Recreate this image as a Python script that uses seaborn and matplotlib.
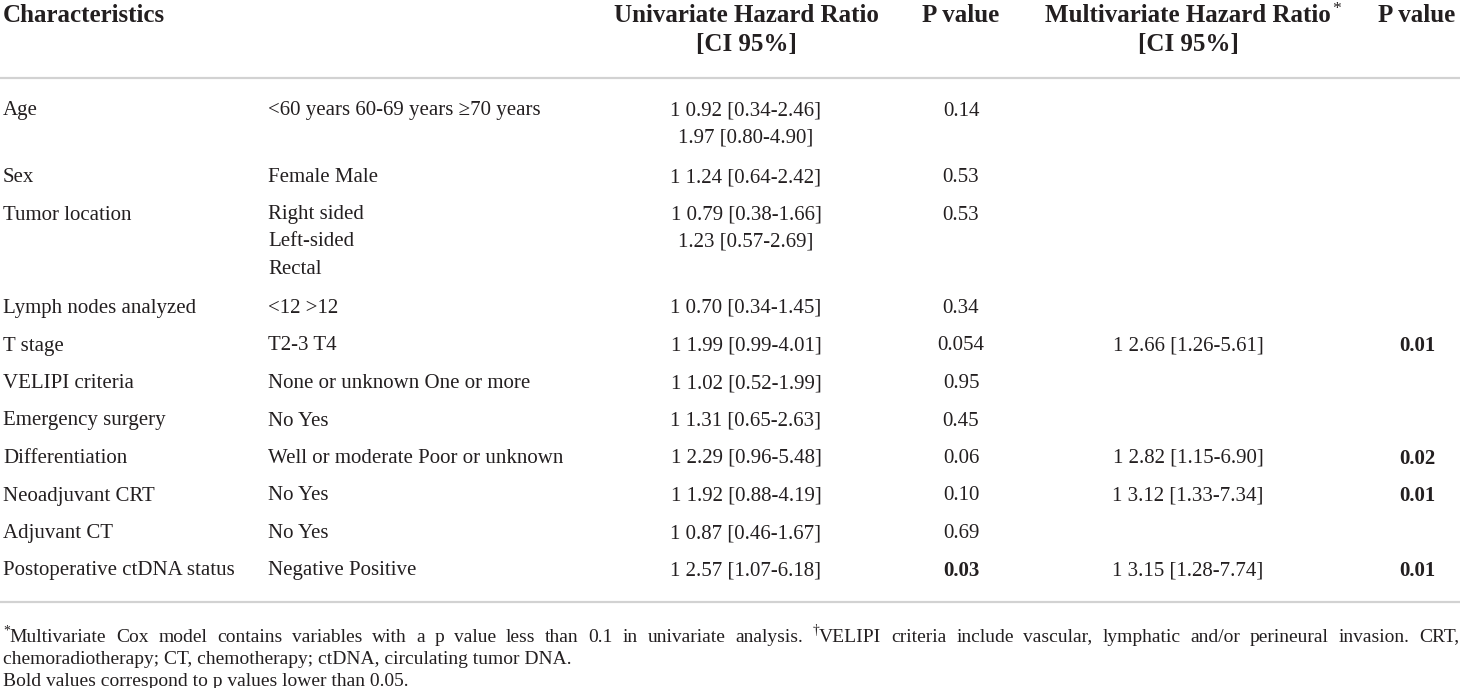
import matplotlib
matplotlib.use("Agg")
import matplotlib.pyplot as plt
import seaborn as sns

# table content
header_top = ["Characteristics", "Univariate Hazard Ratio", "P value",
              "Multivariate Hazard Ratio*", "P value"]
header_sub = ["", "[CI 95%]", "", "[CI 95%]", ""]

characteristics = ["Age", "Sex", "Tumor location", "Lymph nodes analyzed",
                   "T stage", "VELIPI criteria", "Emergency surgery",
                   "Differentiation", "Neoadjuvant CRT", "Adjuvant CT",
                   "Postoperative ctDNA status"]
categories = [["<60 years 60-69 years \u226570 years"],
              ["Female Male"],
              ["Right sided", "Left-sided", "Rectal"],
              ["<12 >12"],
              ["T2-3 T4"],
              ["None or unknown One or more"],
              ["No Yes"],
              ["Well or moderate Poor or unknown"],
              ["No Yes"],
              ["No Yes"],
              ["Negative Positive"]]
uni_hr = [["1 0.92 [0.34-2.46]", "1.97 [0.80-4.90]"],
          ["1 1.24 [0.64-2.42]"],
          ["1 0.79 [0.38-1.66]", "1.23 [0.57-2.69]"],
          ["1 0.70 [0.34-1.45]"],
          ["1 1.99 [0.99-4.01]"],
          ["1 1.02 [0.52-1.99]"],
          ["1 1.31 [0.65-2.63]"],
          ["1 2.29 [0.96-5.48]"],
          ["1 1.92 [0.88-4.19]"],
          ["1 0.87 [0.46-1.67]"],
          ["1 2.57 [1.07-6.18]"]]
uni_p = ["0.14", "0.53", "0.53", "0.34", "0.054", "0.95", "0.45",
         "0.06", "0.10", "0.69", "0.03"]
multi_hr = ["", "", "", "", "1 2.66 [1.26-5.61]", "", "",
            "1 2.82 [1.15-6.90]", "1 3.12 [1.33-7.34]", "", "1 3.15 [1.28-7.74]"]
multi_p = ["", "", "", "", "0.01", "", "", "0.02", "0.01", "", "0.01"]

footnotes = [
    "*Multivariate Cox model contains variables with a p value less than 0.1 in "
    "univariate analysis. \u2020VELIPI criteria include vascular, lymphatic and/or "
    "perineural invasion. CRT,",
    "chemoradiotherapy; CT, chemotherapy; ctDNA, circulating tumor DNA.",
    "Bold values correspond to p values lower than 0.05.",
]

sns.set_theme(style="white")
plt.rcParams["font.family"] = ["Liberation Serif", "DejaVu Serif"]

INK = "#231f20"
RULE = "#d2d2d2"
W, H = 1460, 688

fig = plt.figure(figsize=(W / 100, H / 100), dpi=100)
ax = fig.add_axes([0, 0, 1, 1])
ax.set_xlim(0, W)
ax.set_ylim(H, 0)
ax.axis("off")
renderer = fig.canvas.get_renderer()

col_x = [3, 268, 746, 961, 1188, 1417]
body_size = 15
head_size = 18

# header
ax.text(col_x[0], 15, header_top[0], ha="left", va="center",
        fontsize=head_size, fontweight="bold", color=INK)
for j in range(1, 5):
    label = header_top[j]
    if label.endswith("*"):
        t = ax.text(col_x[j + 1], 15, label[:-1], ha="center", va="center",
                    fontsize=head_size, fontweight="bold", color=INK)
        bb = t.get_window_extent(renderer)
        ax.text(bb.x1 + 1, 9, "*", ha="left", va="center",
                fontsize=head_size * 0.7, color=INK)
    else:
        ax.text(col_x[j + 1], 15, label, ha="center", va="center",
                fontsize=head_size, fontweight="bold", color=INK)
    if header_sub[j]:
        ax.text(col_x[j + 1], 44, header_sub[j], ha="center", va="center",
                fontsize=head_size, fontweight="bold", color=INK)

ax.axhline(78, color=RULE, lw=1.6)
ax.axhline(602, color=RULE, lw=1.6)

# body rows
y = 111
pitch = 37.5
sub = 27
for i, name in enumerate(characteristics):
    ax.text(col_x[0], y, name, ha="left", va="center", fontsize=body_size, color=INK)
    for k, c in enumerate(categories[i]):
        ax.text(col_x[1], y + k * sub, c, ha="left", va="center",
                fontsize=body_size, color=INK)
    for k, c in enumerate(uni_hr[i]):
        ax.text(col_x[2], y + k * sub, c, ha="center", va="center",
                fontsize=body_size, color=INK)
    ax.text(col_x[3], y, uni_p[i], ha="center", va="center", fontsize=body_size,
            color=INK, fontweight="bold" if float(uni_p[i]) < 0.05 else "normal")
    if multi_hr[i]:
        ax.text(col_x[4], y, multi_hr[i], ha="center", va="center",
                fontsize=body_size, color=INK)
        ax.text(col_x[5], y, multi_p[i], ha="center", va="center",
                fontsize=body_size, color=INK,
                fontweight="bold" if float(multi_p[i]) < 0.05 else "normal")
    n = max(len(categories[i]), len(uni_hr[i]))
    y += pitch + sub * (n - 1) + (2 if n > 1 else 0)

# footnotes, first line justified
foot_size = 14


def put_word(x, yy, word, measure_only=False):
    segs = []
    if word[0] in "*\u2020":
        segs.append((word[0], True))
        word = word[1:]
    segs.append((word, False))
    width = 0
    for s, raised in segs:
        t = ax.text(x + width, yy - (6 if raised else 0), s, ha="left", va="center",
                    fontsize=foot_size * (0.7 if raised else 1), color=INK)
        width += t.get_window_extent(renderer).width
        if measure_only:
            t.remove()
    return width


words = footnotes[0].split(" ")
widths = [put_word(0, 0, w, measure_only=True) for w in words]
gap = (W - 4 - sum(widths)) / (len(words) - 1)
x = 3
for w, wd in zip(words, widths):
    put_word(x, 637, w)
    x += wd + gap

ax.text(3, 660, footnotes[1], ha="left", va="center", fontsize=foot_size, color=INK)
ax.text(3, 682, footnotes[2], ha="left", va="center", fontsize=foot_size, color=INK)

fig.savefig("out.png", dpi=100)
